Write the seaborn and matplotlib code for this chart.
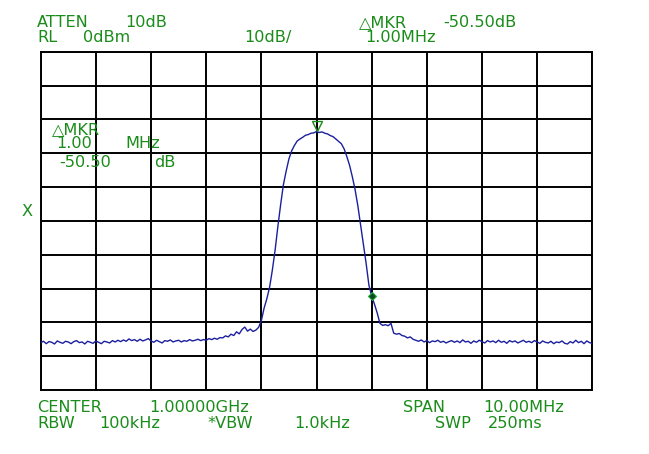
import numpy as np
import pandas as pd
import seaborn as sns
import matplotlib.pyplot as plt


# =========================
# DATA
# =========================
# sweep points, offset from the 1.00000 GHz centre, in MHz
sweep_mhz = np.linspace(-5.0, 5.0, 201)

# trace level in dBm (RL 0 dBm, 10 dB/div)
floor_left = [
    -86.0, -85.6, -86.3, -85.7, -85.9, -86.4, -85.5, -85.9, -86.2, -85.6,
    -85.8, -86.3, -85.7, -85.4, -86.0, -85.8, -86.4, -85.6, -85.9, -86.2,
    -85.5, -85.9, -86.3, -85.6, -85.8, -86.1, -85.4, -85.8, -85.3, -85.7,
    -85.2, -85.6, -84.9, -85.4, -85.1, -85.6, -85.0, -85.5, -85.2, -84.8,
    -85.5, -85.9, -85.3, -85.7, -86.1, -85.4, -85.6, -85.2, -85.8, -85.5,
    -85.3, -85.8, -85.4, -85.6, -85.1, -85.5, -85.3, -85.0, -85.4, -85.1,
    -85.3, -84.8, -85.1, -84.7, -85.0, -84.5,
]
signal = [
    -84.6, -84.0, -84.3, -83.5, -83.9, -82.8, -83.4, -82.1, -81.4, -82.6,
    -82.0, -82.7, -82.3, -81.5, -79.5, -75.8, -73.0, -69.6, -64.5, -58.6,
    -51.6, -45.2, -39.3, -35.3, -31.7, -29.3, -27.7, -26.4, -25.8, -25.3,
    -24.7, -24.5, -24.1, -24.0, -23.6, -23.9, -23.7, -24.1, -24.3, -24.8,
    -25.1, -25.8, -26.5, -27.2, -28.7, -31.0, -33.6, -37.0, -40.8, -45.6,
    -51.2, -57.0, -62.6, -69.0, -72.2, -74.6, -77.2, -80.3, -80.9, -80.7,
    -81.0, -80.3, -83.2, -83.5, -83.3, -83.9, -84.1, -84.6, -84.3, -85.0,
    -85.3,
]
floor_right = [
    -85.6, -85.2, -85.8, -85.4, -86.0, -85.5, -85.7, -85.3, -85.9, -85.6,
    -86.1, -85.7, -85.4, -85.9, -85.5, -86.0, -85.2, -85.8, -85.6, -86.2,
    -85.5, -85.9, -85.3, -85.7, -86.1, -85.4, -85.8, -85.5, -86.0, -85.3,
    -85.9, -85.6, -86.2, -85.4, -85.8, -85.5, -86.1, -85.7, -85.3, -85.9,
    -85.6, -86.0, -85.4, -85.8, -86.2, -85.5, -85.9, -86.1, -85.6, -86.3,
    -85.8, -86.0, -85.5, -86.2, -86.4, -85.7, -86.1, -85.3, -86.0, -85.6,
    -86.3, -85.5, -86.0, -86.2,
]
level_db = floor_left + signal + floor_right

mkr_freq = 0.0      # reference marker (peak)
delta_freq = 1.0    # delta marker, 1.00 MHz away

top_labels = [("ATTEN", 37.3, "left"), ("10dB", 125.0, "left"),
              ("△MKR", 359.3, "left"), ("-50.50dB", 480.0, "center")]
second_labels = [("RL", 37.3, "left"), ("0dBm", 82.7, "left"),
                 ("10dB/", 244.4, "left"), ("1.00MHz", 401.0, "center")]
bottom_labels = [("CENTER", 37.3, "left"), ("1.00000GHz", 199.2, "center"),
                 ("SPAN", 403.5, "left"), ("10.00MHz", 523.3, "center")]
last_labels = [("RBW", 37.3, "left"), ("100kHz", 130.0, "center"),
               ("*VBW", 207.0, "left"), ("1.0kHz", 322.0, "center"),
               ("SWP", 434.5, "left"), ("250ms", 515.0, "center")]
readout = [("△MKR", 51.7, 133.8, "left"), ("1.00", 74.2, 148.3, "center"),
           ("MHz", 125.0, 148.3, "left"), ("-50.50", 85.4, 167.3, "center"),
           ("dB", 154.0, 167.3, "left")]

assert len(level_db) == len(sweep_mhz)


# =========================
# STYLE
# =========================
W, H = 649, 454
GREEN = "#1a8c1a"
TRACE = "#1b1f9e"
FS = 11.6

sns.set_style("white")
plt.rcParams['font.family'] = ['DejaVu Sans']

fig = plt.figure(figsize=(W / 100, H / 100), dpi=100)
ax = fig.add_axes([40.7 / W, 1 - 390 / H, 551.6 / W, 338.3 / H])

df = pd.DataFrame({"freq_mhz": sweep_mhz, "level_db": level_db})
sns.lineplot(data=df, x="freq_mhz", y="level_db", ax=ax,
             color=TRACE, linewidth=1.0, zorder=3)

ax.set_xlim(-5, 5)
ax.set_ylim(-100, 0)
ax.set_xticks(np.arange(-5, 6, 1))
ax.set_yticks(np.arange(-100, 1, 10))
ax.grid(True, color="black", linewidth=1.4)
ax.tick_params(length=0, labelbottom=False, labelleft=False)
ax.set_xlabel("")
ax.set_ylabel("")
for sp in ax.spines.values():
    sp.set_color("black")
    sp.set_linewidth(1.4)

# markers
peak_db = level_db[int(np.argmin(np.abs(sweep_mhz - mkr_freq)))]
delta_db = level_db[int(np.argmin(np.abs(sweep_mhz - delta_freq)))]
ax.plot([mkr_freq], [peak_db + 1.5], marker="v", markersize=7,
        mfc="none", mec=GREEN, mew=1.0, zorder=4)
ax.plot([delta_freq], [delta_db], marker="D", markersize=4,
        mfc="#0b4a22", mec="#22a83a", mew=0.8, zorder=4)


# =========================
# SCREEN ANNOTATIONS
# =========================
def put(s, x, y, ha="left"):
    fig.text(x / W, 1 - y / H, s, ha=ha, va="baseline",
             color=GREEN, fontsize=FS)


for s, x, ha in top_labels:
    put(s, x, 26.7, ha)
for s, x, ha in second_labels:
    put(s, x, 42.3, ha)
for s, x, ha in bottom_labels:
    put(s, x, 412.3, ha)
for s, x, ha in last_labels:
    put(s, x, 428.3, ha)
for s, x, y, ha in readout:
    put(s, x, y, ha)
put("X", 22.0, 216.0)

fig.savefig("out.png", dpi=100, facecolor="white")
